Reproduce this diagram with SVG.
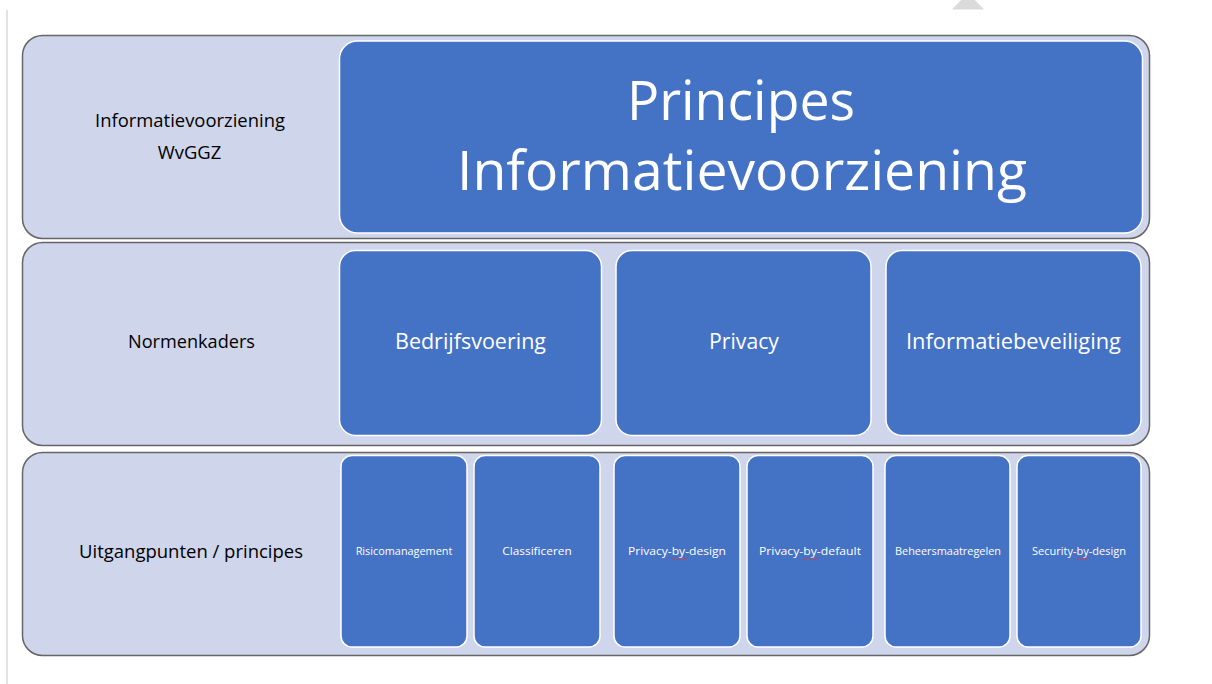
<svg xmlns="http://www.w3.org/2000/svg" width="1212" height="684" viewBox="0 0 1212 684">
<style>
.row{fill:#CFD5EA;stroke:#666;stroke-width:1.5}
.box{fill:#4472C4;stroke:#fff;stroke-width:1.5}
.lbl{font-family:"Open Sans","Liberation Sans",sans-serif;fill:#000;text-anchor:middle}
.wt{font-family:"Open Sans","Liberation Sans",sans-serif;fill:#fff;text-anchor:middle}
.sq{fill:none;stroke:#e03a3a;stroke-width:0.8}
</style>
<rect x="0" y="0" width="1212" height="684" fill="#fff"/>
<line x1="7" y1="10" x2="7" y2="684" stroke="#e2e2e2" stroke-width="2"/>
<polygon points="952,9.5 984,9.5 968,-7" fill="#dadada"/>

<g id="row1">
<rect class="row" x="22.5" y="35.5" width="1127" height="203" rx="20"/>
<text class="lbl" font-size="18.4" x="190" y="127" textLength="190" lengthAdjust="spacingAndGlyphs">Informatievoorziening</text>
<text class="lbl" font-size="18.4" x="189.5" y="159">WvGGZ</text>
</g>
<g id="principes">
<rect class="box" x="339.5" y="41" width="803" height="192" rx="18"/>
<text class="wt" font-size="55" x="741" y="120" textLength="228" lengthAdjust="spacingAndGlyphs">Principes</text>
<text class="wt" font-size="55" x="742" y="190" textLength="570" lengthAdjust="spacingAndGlyphs">Informatievoorziening</text>
</g>

<g id="row2">
<rect class="row" x="22.5" y="242.5" width="1127" height="203" rx="20"/>
<text class="lbl" font-size="18.4" x="191.5" y="348" textLength="127" lengthAdjust="spacingAndGlyphs">Normenkaders</text>
</g>
<g id="bedrijfsvoering">
<rect class="box" x="339.5" y="250.5" width="262" height="185" rx="16"/>
<text class="wt" font-size="21.4" x="470.5" y="349" textLength="151" lengthAdjust="spacingAndGlyphs">Bedrijfsvoering</text>
</g>
<g id="privacy">
<rect class="box" x="616" y="250.5" width="255" height="185" rx="16"/>
<text class="wt" font-size="21.4" x="744" y="349" textLength="70" lengthAdjust="spacingAndGlyphs">Privacy</text>
</g>
<g id="informatiebeveiliging">
<rect class="box" x="886" y="250.5" width="255" height="185" rx="16"/>
<text class="wt" font-size="21.4" x="1013.5" y="349" textLength="215" lengthAdjust="spacingAndGlyphs">Informatiebeveiliging</text>
</g>

<g id="row3">
<rect class="row" x="22.5" y="452.5" width="1127" height="203" rx="20"/>
<text class="lbl" font-size="18.4" x="191" y="558" textLength="224" lengthAdjust="spacingAndGlyphs">Uitgangpunten / principes</text>
</g>
<g id="risicomanagement">
<rect class="box" x="341" y="455.5" width="126" height="191.5" rx="11"/>
<text class="wt" font-size="11" x="404" y="555" textLength="96.7" lengthAdjust="spacingAndGlyphs">Risicomanagement</text>
</g>
<g id="classificeren">
<rect class="box" x="474" y="455.5" width="126" height="191.5" rx="11"/>
<text class="wt" font-size="11" x="537" y="555" textLength="69.4" lengthAdjust="spacingAndGlyphs">Classificeren</text>
</g>
<g id="privacy-by-design">
<rect class="box" x="614" y="455.5" width="126" height="191.5" rx="11"/>
<text class="wt" font-size="11" x="677" y="555" textLength="98" lengthAdjust="spacingAndGlyphs">Privacy-by-design</text>
<path class="sq" d="M672,558 l1.5,1.2 l1.5,-1.2 l1.5,1.2 l1.5,-1.2 l1.5,1.2 l1.5,-1.2 l1.5,1.2 l1.5,-1.2 l1.5,1.2 l1.5,-1.2"/>
</g>
<g id="privacy-by-default">
<rect class="box" x="747" y="455.5" width="126" height="191.5" rx="11"/>
<text class="wt" font-size="11" x="810" y="555" textLength="102" lengthAdjust="spacingAndGlyphs">Privacy-by-default</text>
<path class="sq" d="M803.5,558 l1.5,1.2 l1.5,-1.2 l1.5,1.2 l1.5,-1.2 l1.5,1.2 l1.5,-1.2 l1.5,1.2 l1.5,-1.2 l1.5,1.2 l1.5,-1.2"/>
</g>
<g id="beheersmaatregelen">
<rect class="box" x="885" y="455.5" width="125" height="191.5" rx="11"/>
<text class="wt" font-size="11" x="948" y="555" textLength="106" lengthAdjust="spacingAndGlyphs">Beheersmaatregelen</text>
</g>
<g id="security-by-design">
<rect class="box" x="1017" y="455.5" width="124" height="191.5" rx="11"/>
<text class="wt" font-size="11" x="1079" y="555" textLength="94" lengthAdjust="spacingAndGlyphs">Security-by-design</text>
<path class="sq" d="M1076.5,558 l1.5,1.2 l1.5,-1.2 l1.5,1.2 l1.5,-1.2 l1.5,1.2 l1.5,-1.2 l1.5,1.2 l1.5,-1.2"/>
</g>
<g id="connectors"/>
</svg>
